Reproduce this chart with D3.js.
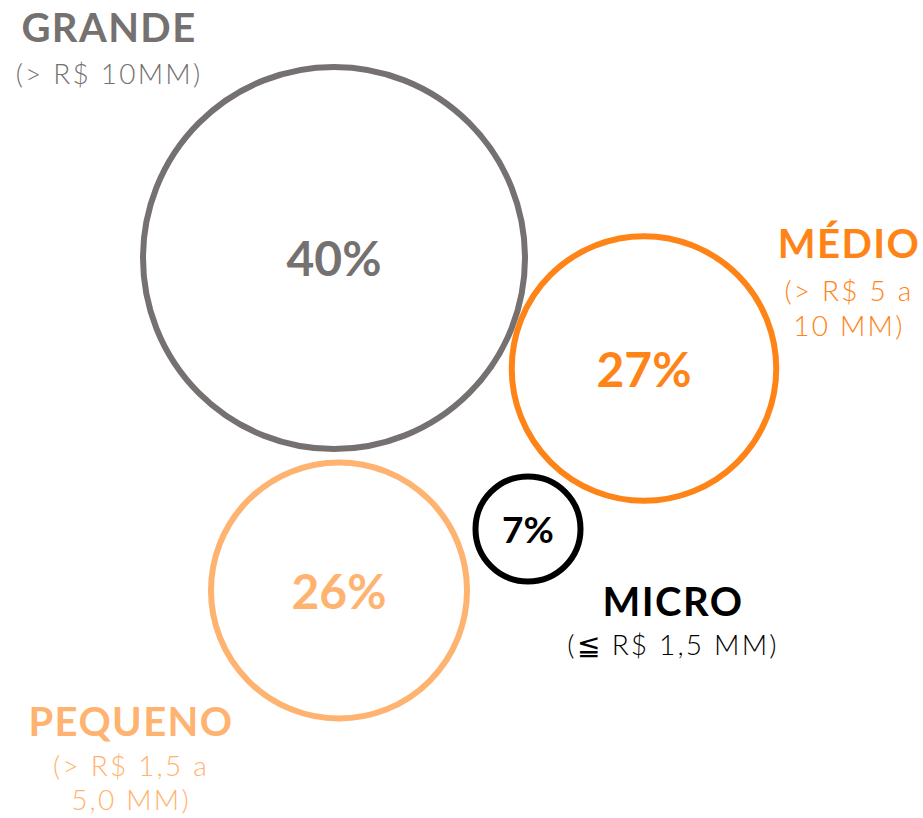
<!DOCTYPE html>
<html><head><meta charset="utf-8">
<script src="https://cdn.jsdelivr.net/npm/d3@7"></script>
<style>html,body{margin:0;padding:0;background:#fff;}svg{display:block;}</style>
</head><body>
<svg id="chart" width="923" height="818"></svg>
<script>
const categories = ["GRANDE", "MÉDIO", "PEQUENO", "MICRO"];
const shares = [40, 27, 26, 7];
const subtitles = [["(> R$ 10MM)"], ["(> R$ 5 a", "10 MM)"], ["(> R$ 1,5 a", "5,0 MM)"], ["(≦ R$ 1,5 MM)"]];
const colors = ["#767171", "#FF8417", "#FFB371", "#000000"];

// layout (positions only)
const centers = [[334, 258], [644, 368.5], [339, 590.5], [528, 529]];
const labelPos = [[109, 42], [849, 258], [131, 736], [673, 616]];
const subGap = [42, 43, 40, 39];
const subLine = [35, 35, 34, 35];
const pctSize = [48, 48, 48, 37];

const svg = d3.select("#chart");
const r = d3.scaleLinear().domain([7, 26.5, 40]).range([52.5, 130, 191]);
const font = "Lato, 'Open Sans', sans-serif";

const data = categories.map((c, i) => ({c, v: shares[i], sub: subtitles[i], col: colors[i],
  cx: centers[i][0], cy: centers[i][1], lx: labelPos[i][0], ly: labelPos[i][1],
  ps: pctSize[i], gap: subGap[i], line: subLine[i]}));

const g = svg.selectAll("g.b").data(data).enter().append("g").attr("class", "b");
g.append("circle")
  .attr("cx", d => d.cx).attr("cy", d => d.cy)
  .attr("r", d => r(d.v))
  .attr("fill", "none").attr("stroke", d => d.col).attr("stroke-width", 6);
g.append("text")
  .attr("x", d => d.cx).attr("y", d => d.cy + d.ps * 0.38)
  .attr("text-anchor", "middle")
  .attr("font-family", font).attr("font-weight", 700)
  .attr("font-size", d => d.ps)
  .attr("fill", d => d.col)
  .text(d => d.v + "%");
g.append("text")
  .attr("x", d => d.lx).attr("y", d => d.ly)
  .attr("text-anchor", "middle")
  .attr("font-family", font).attr("font-weight", 700)
  .attr("font-size", 40).attr("letter-spacing", 1.4)
  .attr("fill", d => d.col)
  .text(d => d.c);
g.each(function(d) {
  const sel = d3.select(this);
  d.sub.forEach((s, j) => {
    sel.append("text")
      .attr("x", d.lx).attr("y", d.ly + d.gap + j * d.line)
      .attr("text-anchor", "middle")
      .attr("font-family", font).attr("font-weight", 300)
      .attr("font-size", 28).attr("letter-spacing", 2.2)
      .attr("fill", d.col)
      .text(s);
  });
});
</script>
</body></html>
